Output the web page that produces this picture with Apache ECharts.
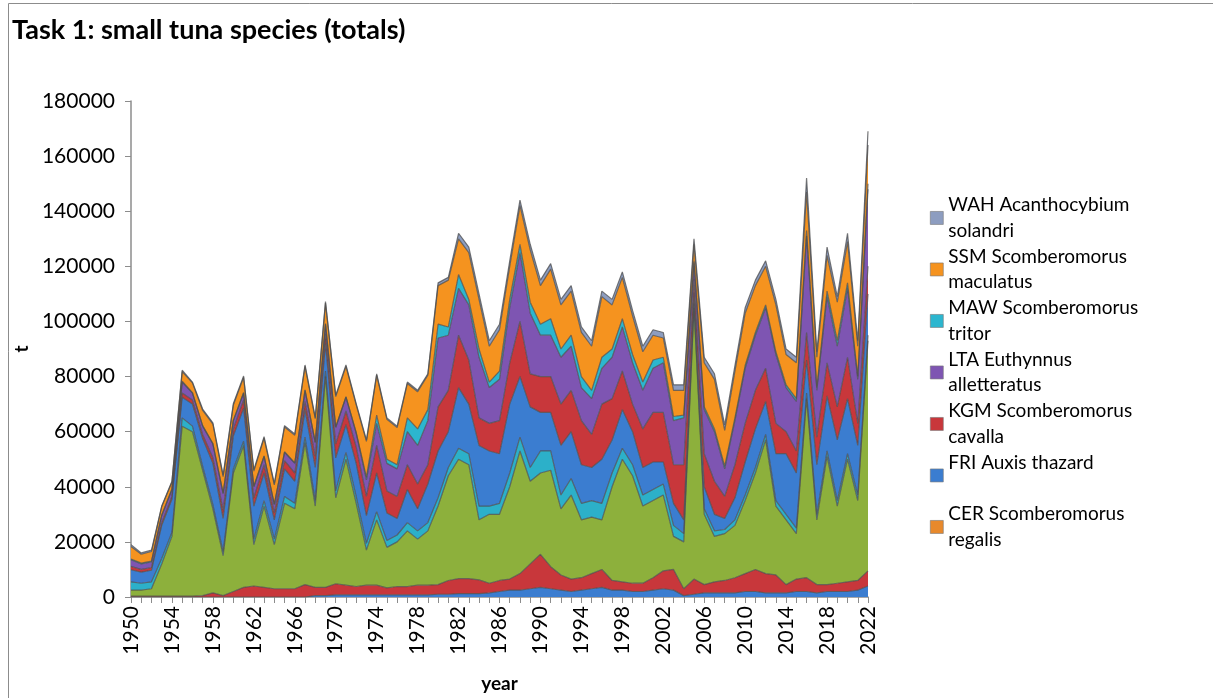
<!DOCTYPE html>
<html>
<head>
<meta charset="utf-8">
<title>Task 1: small tuna species (totals)</title>
<script src="https://cdn.jsdelivr.net/npm/echarts@6/dist/echarts.min.js"></script>
<style>
  html, body { margin: 0; padding: 0; background: #fff; }
  #chart { width: 1213px; height: 698px; }
</style>
</head>
<body>
<div id="chart"></div>
<script>
// years on the x axis
const years = []
for (let y = 1950; y <= 2022; y++) years.push(String(y))

const yTicks = [0, 20000, 40000, 60000, 80000, 100000, 120000, 140000, 160000, 180000]

// stacked from the bottom up (t)
const baseBlue = [
  0, 0, 0, 0, 0, 0, 0, 0, 0, 0,
  0, 0, 0, 0, 0, 0, 0, 0, 500, 500,
  800, 800, 800, 800, 800, 800, 800, 800, 800, 800,
  1000, 1000, 1200, 1200, 1200, 1500, 2000, 2500, 2500, 3000,
  3500, 3000, 2500, 2000, 2500, 3000, 3500, 2500, 2500, 2000,
  2000, 2500, 3000, 2500, 500, 1000, 1500, 1500, 1500, 1500,
  2000, 2000, 1500, 1500, 1500, 2000, 2000, 1500, 2000, 2000,
  2000, 2500, 4000
]
const baseRed = [
  300, 300, 300, 300, 300, 300, 300, 500, 1500, 500,
  2000, 3500, 4000, 3500, 3000, 3000, 3000, 4500, 3000, 3000,
  4000, 3500, 3000, 3500, 3500, 2500, 3000, 3000, 3500, 3500,
  3500, 5000, 5500, 5500, 5000, 3500, 4000, 4000, 6000, 9000,
  12000, 8000, 5500, 4500, 4500, 5500, 6500, 3500, 3000, 3000,
  3000, 4500, 6500, 7500, 2500, 5500, 3000, 4000, 4500, 5500,
  6500, 8000, 7000, 6500, 3000, 4500, 5000, 3000, 2500, 3000,
  3500, 3500, 5500
]
const baseGreen = [
  2200, 2200, 2700, 11700, 21700, 61700, 59700, 45500, 30500, 14500,
  43000, 51500, 15000, 29500, 16000, 31000, 29000, 51500, 29500, 76500,
  31200, 45700, 30200, 12700, 23700, 14700, 16200, 20200, 16700, 19700,
  28500, 38000, 43300, 41300, 21800, 25000, 24000, 33500, 44500, 30000,
  29500, 35000, 24000, 30500, 21000, 20500, 18000, 34000, 44500, 39000,
  28000, 28000, 27500, 12000, 17000, 98500, 25500, 16500, 17000, 19000,
  26500, 35000, 48500, 25000, 23500, 16500, 65000, 23500, 46500, 28000,
  44500, 29000, 83500
]
const cer = [
  3000, 2500, 2500, 2000, 1500, 3000, 2000, 1500, 1500, 1500,
  1500, 1500, 2000, 2000, 2000, 2500, 2000, 2000, 2000, 2000,
  2500, 2500, 2500, 2500, 3000, 2500, 2500, 3000, 3000, 3000,
  3000, 3000, 4000, 4000, 5000, 3000, 4000, 5000, 5000, 5000,
  8000, 7000, 5000, 6000, 6000, 6000, 6000, 5000, 4000, 4000,
  4000, 4000, 4000, 4000, 3000, 1500, 2000, 2000, 1500, 2000,
  2000, 2000, 2000, 2000, 2000, 2000, 2000, 2000, 2000, 2000,
  2000, 2000, 2000
]
const fri = [
  4400, 4000, 4200, 12000, 12000, 7500, 8000, 10000, 15000, 12000,
  12000, 12000, 12000, 10000, 7000, 10000, 8000, 10000, 12000, 10000,
  12000, 10000, 12000, 10000, 14000, 10000, 6000, 12000, 8000, 14000,
  17000, 13000, 22000, 18000, 22000, 20000, 18000, 25000, 22000, 22000,
  14000, 14000, 18000, 17000, 14000, 12000, 16000, 12000, 14000, 12000,
  10000, 10000, 8000, 8000, 5000, 4000, 8000, 6000, 4000, 8000,
  12000, 14000, 12000, 17000, 22000, 20000, 12000, 18000, 20000, 22000,
  20000, 18000, 15000
]
const kgm = [
  1200, 1000, 1000, 1000, 1000, 1500, 1500, 1500, 2000, 3000,
  2500, 3000, 3000, 3000, 2500, 3000, 3000, 3000, 4000, 3500,
  5000, 5000, 6000, 7000, 10000, 8000, 8000, 9000, 9000, 7000,
  16000, 15000, 19000, 16000, 10000, 10000, 12000, 15000, 20000, 12000,
  13000, 13000, 15000, 15000, 16000, 12000, 20000, 15000, 14000, 10000,
  14000, 18000, 18000, 14000, 20000, 5000, 12000, 12000, 8000, 12000,
  14000, 14000, 12000, 11000, 8000, 8000, 10000, 10000, 12000, 12000,
  15000, 8000, 10000
]
const lta = [
  2400, 2000, 2000, 2500, 2500, 4000, 2500, 3000, 5000, 6000,
  3000, 2500, 4000, 3000, 3000, 3000, 3500, 4000, 5000, 3500,
  6000, 5000, 5000, 6000, 8000, 10000, 10000, 12000, 14000, 16000,
  25000, 20000, 17000, 20000, 22000, 13000, 15000, 20000, 25000, 22000,
  15000, 15000, 17000, 16000, 12000, 13000, 13000, 15000, 16000, 15000,
  14000, 16000, 18000, 16000, 17000, 6000, 16000, 18000, 10000, 16000,
  20000, 20000, 22000, 25000, 16000, 18000, 35000, 17000, 24000, 22000,
  25000, 16000, 28000
]
const maw = [
  300, 300, 300, 300, 200, 300, 200, 200, 200, 200,
  200, 200, 200, 200, 200, 200, 200, 200, 200, 200,
  200, 200, 200, 1000, 3000, 1500, 1500, 5000, 6000, 4000,
  5000, 3000, 5000, 2000, 3000, 2000, 3000, 3000, 3000, 4000,
  4000, 6000, 3000, 4000, 4000, 3000, 4000, 3000, 3000, 3000,
  3000, 3000, 2000, 1500, 1000, 500, 1000, 1000, 1000, 1000,
  1000, 1000, 1000, 1000, 1000, 1000, 2000, 1000, 2000, 2000,
  2000, 1000, 2000
]
const ssm = [
  4500, 3200, 3500, 3000, 2500, 3500, 3500, 5500, 7000, 6000,
  5500, 5500, 5500, 6500, 7000, 9000, 10000, 8500, 8500, 7500,
  11000, 11000, 10000, 13000, 14500, 14500, 13500, 12500, 13500, 12500,
  14000, 17000, 13000, 17000, 18000, 13000, 15000, 12000, 14000, 19000,
  14000, 18000, 16000, 16000, 16000, 16000, 22000, 16000, 15000, 14000,
  11000, 9000, 7000, 9500, 9000, 6000, 16000, 18000, 13000, 17000,
  19000, 17000, 14000, 17000, 11000, 13000, 14000, 11000, 13000, 14000,
  15000, 11000, 14000
]
const wah = [
  700, 500, 500, 200, 300, 500, 300, 500, 500, 500,
  500, 500, 500, 500, 500, 500, 500, 500, 500, 500,
  500, 500, 500, 500, 500, 500, 500, 500, 500, 500,
  1000, 1000, 2000, 2000, 2000, 2000, 2000, 2000, 2000, 2000,
  2000, 2000, 2000, 2000, 2000, 2000, 2000, 2000, 2000, 2000,
  2000, 2000, 2000, 2000, 2000, 2000, 2000, 2000, 2000, 2000,
  2000, 2000, 2000, 2000, 2000, 2000, 5000, 2000, 3000, 2000,
  3000, 2000, 5000
]

const font = 'Lato, "Liberation Sans", sans-serif'

// bottom first, as the stack is drawn
const layers = [
  { name: 'base blue', data: baseBlue, color: '#3b7dd0' },
  { name: 'base red', data: baseRed, color: '#c8373b' },
  { name: 'base green', data: baseGreen, color: '#8db03c' },
  { name: 'CER Scomberomorus regalis', data: cer, color: '#2cb0c9', legendColor: '#e8892c' },
  { name: 'FRI Auxis thazard', data: fri, color: '#3b7dd0' },
  { name: 'KGM Scomberomorus cavalla', data: kgm, color: '#c8373b' },
  { name: 'LTA Euthynnus alletteratus', data: lta, color: '#7e55b2' },
  { name: 'MAW Scomberomorus tritor', data: maw, color: '#2cb6cf' },
  { name: 'SSM Scomberomorus maculatus', data: ssm, color: '#f5931f' },
  { name: 'WAH Acanthocybium solandri', data: wah, color: '#8d9dc0' }
]

// wrapped legend text as in the original
const legendText = {
  'WAH Acanthocybium solandri': 'WAH Acanthocybium\nsolandri',
  'SSM Scomberomorus maculatus': 'SSM Scomberomorus\nmaculatus',
  'MAW Scomberomorus tritor': 'MAW Scomberomorus\ntritor',
  'LTA Euthynnus alletteratus': 'LTA Euthynnus\nalletteratus',
  'KGM Scomberomorus cavalla': 'KGM Scomberomorus\ncavalla',
  'FRI Auxis thazard': 'FRI Auxis thazard\n ',
  'CER Scomberomorus regalis': 'CER Scomberomorus\nregalis'
}

const myChart = echarts.init(document.getElementById('chart'))

const option = {
  animation: false,
  title: {
    text: 'Task 1: small tuna species (totals)',
    left: 12,
    top: 17,
    padding: 0,
    textStyle: { fontFamily: font, fontSize: 27, fontWeight: 'bold', color: '#000' }
  },
  graphic: [{
    type: 'rect',
    shape: { x: 8.5, y: 3.5, width: 1400, height: 900 },
    style: { fill: 'none', stroke: '#8c8c8c', lineWidth: 1 },
    silent: true
  }],
  legend: {
    orient: 'vertical',
    left: 930,
    top: 180,
    padding: 0,
    itemGap: -24.4,
    itemWidth: 13,
    itemHeight: 13,
    icon: 'rect',
    selectedMode: false,
    data: Object.keys(legendText).map(name => {
      const l = layers.find(s => s.name === name)
      return { name, itemStyle: { color: l.legendColor || l.color, borderColor: '#777', borderWidth: 0.6 } }
    }),
    formatter: name => legendText[name],
    textStyle: {
      fontFamily: font,
      fontSize: 19,
      color: '#000',
      lineHeight: 25.3,
      padding: [25.3, 0, 0, 0]
    }
  },
  grid: {
    left: 131,
    right: 345,
    top: 101,
    bottom: 101
  },
  xAxis: {
    type: 'category',
    boundaryGap: false,
    data: years,
    name: 'year',
    nameLocation: 'middle',
    nameGap: 77,
    nameTextStyle: { fontFamily: font, fontSize: 19, fontWeight: 'bold', color: '#000' },
    axisLine: { lineStyle: { color: '#8c8c8c', width: 1.5 } },
    axisTick: { interval: 0, length: 6, lineStyle: { color: '#8c8c8c' } },
    axisLabel: {
      interval: 3,
      rotate: 90,
      margin: 9,
      fontFamily: font,
      fontSize: 21,
      color: '#000'
    },
    splitLine: { show: false }
  },
  yAxis: {
    type: 'value',
    min: yTicks[0],
    max: yTicks[yTicks.length - 1],
    interval: yTicks[1] - yTicks[0],
    name: 't',
    nameLocation: 'middle',
    nameGap: 80,
    nameRotate: 90,
    nameTextStyle: { fontFamily: font, fontSize: 19, fontWeight: 'bold', color: '#000' },
    axisLine: { show: true, lineStyle: { color: '#8c8c8c', width: 1.5 } },
    axisTick: { show: true, length: 6, lineStyle: { color: '#8c8c8c' } },
    axisLabel: { margin: 16, fontFamily: font, fontSize: 21, color: '#000', formatter: v => String(v) },
    splitLine: { show: false }
  },
  series: layers.map(l => ({
    name: l.name,
    type: 'line',
    stack: 'total',
    data: l.data,
    symbol: 'none',
    color: l.color,
    lineStyle: { color: '#4d4d4d', width: 1.2, opacity: 0.75 },
    areaStyle: { color: l.color, opacity: 1 },
    emphasis: { disabled: true }
  }))
}

myChart.setOption(option)
</script>
</body>
</html>
